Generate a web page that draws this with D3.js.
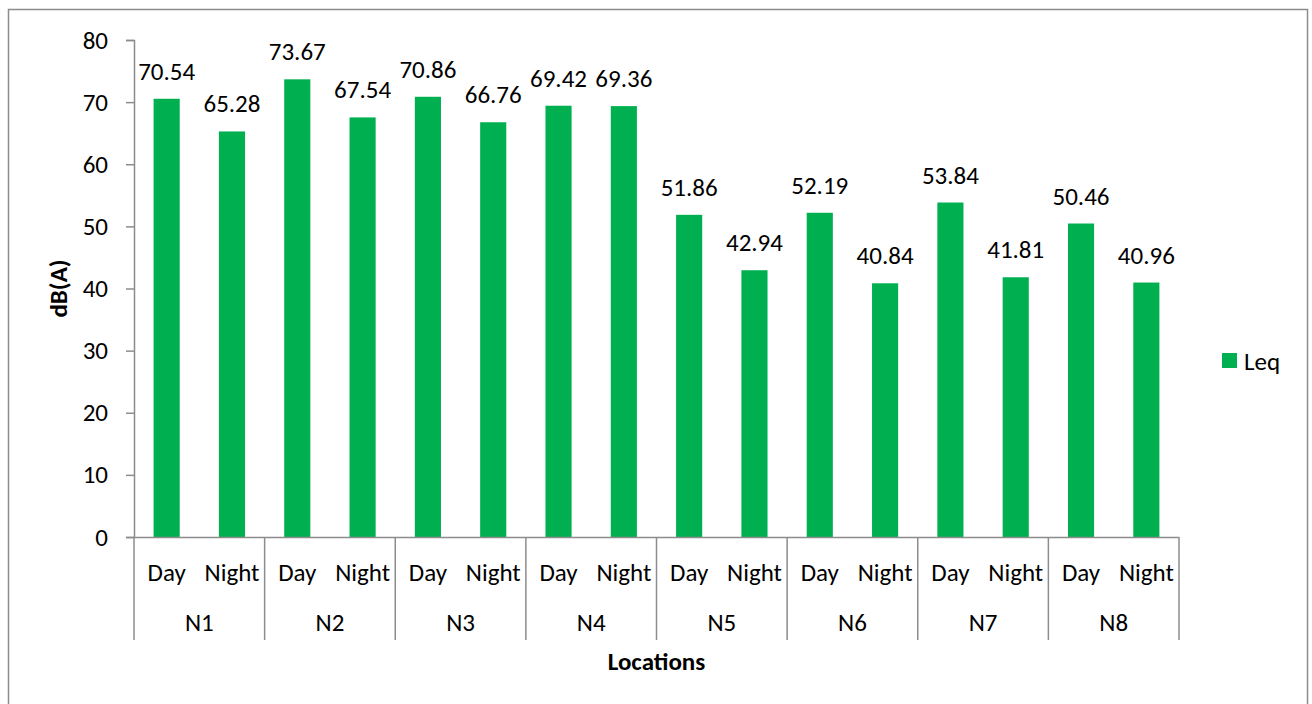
<!DOCTYPE html>
<html>
<head>
<meta charset="utf-8">
<script src="https://cdn.jsdelivr.net/npm/d3@7"></script>
<style>
  body { margin: 0; background: #fff; }
  text { font-family: Carlito, Lato, "Open Sans", sans-serif; fill: #000; }
</style>
</head>
<body>
<div id="chart"></div>
<script>
// chart data
const locations = ["N1", "N2", "N3", "N4", "N5", "N6", "N7", "N8"];
const periods = ["Day", "Night"];
const dayLeq = [70.54, 73.67, 70.86, 69.42, 51.86, 52.19, 53.84, 50.46];
const nightLeq = [65.28, 67.54, 66.76, 69.36, 42.94, 40.84, 41.81, 40.96];
const yTicks = [0, 10, 20, 30, 40, 50, 60, 70, 80];

const W = 1312, H = 704;
const plotL = 134, plotR = 1179, plotT = 40, plotB = 537;
const axisCol = "#8c8c8c", barCol = "#00b050";
const fs = 25;

let rows = [];
locations.forEach((loc, i) => {
    rows.push({ loc: loc, period: periods[0], v: dayLeq[i] });
    rows.push({ loc: loc, period: periods[1], v: nightLeq[i] });
});

const svg = d3.select("#chart").append("svg")
    .attr("width", W)
    .attr("height", H);

// chart frame
svg.append("rect")
    .attr("x", 8.5).attr("y", 9.5)
    .attr("width", 1299).attr("height", 700)
    .attr("fill", "none")
    .attr("stroke", axisCol)
    .attr("stroke-width", 1.5);

const y = d3.scaleLinear().domain([0, 80]).range([plotB, plotT]);

const x = d3.scaleBand()
    .domain(rows.map(d => d.loc + "-" + d.period))
    .range([plotL, plotR])
    .paddingInner(0.6)
    .paddingOuter(0.3);

const xGroup = d3.scaleBand().domain(locations).range([plotL, plotR]);

// y axis
const yAxis = svg.append("g")
    .attr("transform", "translate(" + plotL + ",0)")
    .call(d3.axisLeft(y).tickValues(yTicks).tickSize(8).tickPadding(18));
yAxis.select(".domain").attr("stroke", axisCol).attr("stroke-width", 1.5);
yAxis.selectAll(".tick line").attr("stroke", axisCol).attr("stroke-width", 1.5);
yAxis.selectAll(".tick text")
    .attr("font-size", fs)
    .attr("font-family", "Carlito, Lato, 'Open Sans', sans-serif")
    .attr("fill", "#000");

// bars
svg.selectAll(".bar")
    .data(rows)
    .enter().append("rect")
    .attr("class", "bar")
    .attr("x", d => x(d.loc + "-" + d.period))
    .attr("y", d => y(d.v))
    .attr("width", x.bandwidth())
    .attr("height", d => y(0) - y(d.v))
    .attr("fill", barCol);

// value labels
svg.selectAll(".val")
    .data(rows)
    .enter().append("text")
    .attr("class", "val")
    .attr("x", d => x(d.loc + "-" + d.period) + x.bandwidth() / 2)
    .attr("y", d => y(d.v) - 19)
    .attr("text-anchor", "middle")
    .attr("font-size", fs)
    .text(d => d.v.toFixed(2));

// category axis (two levels)
svg.append("line")
    .attr("x1", plotL).attr("x2", plotR)
    .attr("y1", plotB + 0.5).attr("y2", plotB + 0.5)
    .attr("stroke", axisCol).attr("stroke-width", 1.5);

const seps = locations.map(d => xGroup(d)).concat([plotR]);
svg.selectAll(".sep")
    .data(seps)
    .enter().append("line")
    .attr("class", "sep")
    .attr("x1", d => d).attr("x2", d => d)
    .attr("y1", plotB).attr("y2", 640)
    .attr("stroke", axisCol).attr("stroke-width", 1.5);

svg.selectAll(".per")
    .data(rows)
    .enter().append("text")
    .attr("class", "per")
    .attr("x", d => x(d.loc + "-" + d.period) + x.bandwidth() / 2)
    .attr("y", 581)
    .attr("text-anchor", "middle")
    .attr("font-size", fs)
    .text(d => d.period);

svg.selectAll(".loc")
    .data(locations)
    .enter().append("text")
    .attr("class", "loc")
    .attr("x", d => xGroup(d) + xGroup.bandwidth() / 2)
    .attr("y", 631)
    .attr("text-anchor", "middle")
    .attr("font-size", fs)
    .text(d => d);

// axis titles
svg.append("text")
    .attr("transform", "translate(67," + (plotT + plotB) / 2 + ") rotate(-90)")
    .attr("text-anchor", "middle")
    .attr("font-size", 25)
    .attr("font-weight", "bold")
    .text("dB(A)");

svg.append("text")
    .attr("x", (plotL + plotR) / 2)
    .attr("y", 670)
    .attr("text-anchor", "middle")
    .attr("font-size", 25)
    .attr("font-weight", "bold")
    .text("Locations");

// legend
const legend = svg.append("g").attr("transform", "translate(1222,353)");
legend.append("rect")
    .attr("width", 15).attr("height", 15)
    .attr("fill", barCol);
legend.append("text")
    .attr("x", 22).attr("y", 17)
    .attr("font-size", fs)
    .text("Leq");
</script>
</body>
</html>
